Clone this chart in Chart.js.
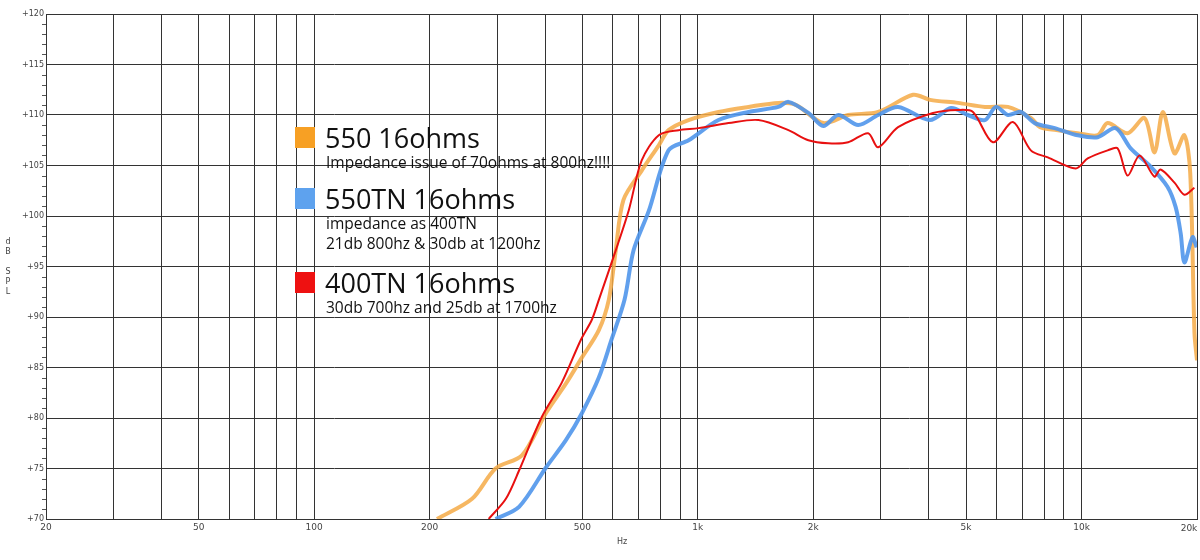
<!DOCTYPE html>
<html>
<head>
<meta charset="utf-8">
<script src="https://cdn.jsdelivr.net/npm/chart.js@4/dist/chart.umd.min.js"></script>
<style>
  body { margin: 0; background: #fff; }
  #wrap { width: 1200px; height: 560px; }
</style>
</head>
<body>
<div id="wrap"><canvas id="myChart" width="1200" height="560"></canvas></div>
<script>
// frequency (Hz) / SPL (dB)
var freq550 = [209, 258, 297, 348, 402, 453, 499, 552, 586, 611, 640, 714, 791, 839, 946, 1132, 1355, 1622, 1800, 2124, 2465, 2951, 3640, 4030, 4767, 5600, 6431, 7378, 7800, 8600, 9773, 11020, 11700, 13190, 14600, 15500, 16300, 17470, 18540, 19200, 19700, 20000];
var spl550  = [70, 72, 75, 76.3, 80.5, 83.4, 86, 88.7, 91.7, 96.6, 101.6, 104.5, 107, 108.5, 109.5, 110.3, 110.8, 111.2, 111, 109.2, 110, 110.3, 112, 111.5, 111.2, 110.8, 110.8, 109.7, 108.8, 108.5, 108.2, 108, 109.2, 108.2, 109.7, 106.3, 110.3, 106.2, 108, 104.3, 88.4, 85.7];

var freq550tn = [297, 342, 402, 453, 499, 552, 595, 644, 680, 745, 839, 946, 1132, 1355, 1622, 1722, 1941, 2124, 2323, 2619, 2951, 3326, 4030, 4572, 5061, 5600, 5985, 6431, 6951, 7553, 8517, 9773, 11020, 12270, 13430, 15140, 16750, 17590, 18130, 18550, 19470, 19950];
var spl550tn  = [70, 71.2, 75.1, 77.8, 80.5, 84, 87.7, 91.7, 96.6, 100.5, 106.5, 107.5, 109.5, 110.3, 110.8, 111.3, 110.2, 108.9, 110, 109, 110, 110.8, 109.5, 110.7, 110, 109.5, 110.8, 110, 110.3, 109.2, 108.7, 108, 107.8, 108.7, 106.7, 104.9, 102.9, 100.9, 98.3, 95.4, 97.9, 96.9];

var freq400tn = [285, 316, 342, 392, 442, 495, 529, 552, 611, 661, 714, 791, 891, 1004, 1202, 1439, 1722, 1941, 2187, 2465, 2779, 2951, 3326, 4103, 4767, 5213, 5876, 6625, 7378, 8170, 9659, 10379, 11700, 12420, 13190, 14170, 15490, 16070, 17470, 18540, 19690];
var spl400tn  = [70, 72, 74.8, 80.1, 83.5, 87.7, 89.7, 91.7, 96.6, 100.6, 105.5, 108, 108.5, 108.7, 109.2, 109.5, 108.5, 107.5, 107.2, 107.3, 108.2, 106.8, 108.8, 110.2, 110.5, 110.3, 107.3, 109.3, 106.5, 105.8, 104.7, 105.7, 106.5, 106.7, 104, 106, 103.9, 104.6, 103.3, 102.1, 102.8];

var xTicks = [20, 30, 40, 50, 60, 70, 80, 90, 100, 200, 300, 400, 500, 600, 700, 800, 900, 1000, 2000, 3000, 4000, 5000, 6000, 7000, 8000, 9000, 10000, 20000];
var xLabels = [20, 50, 100, 200, 500, 1000, 2000, 5000, 10000];

var legendItems = [
    { name: '550 16ohms', color: '#f7a024', notes: ['Impedance issue of 70ohms at 800hz!!!!'] },
    { name: '550TN 16ohms', color: '#5ea2ee', notes: ['impedance as 400TN', '21db 800hz & 30db at 1200hz'] },
    { name: '400TN 16ohms', color: '#ee1111', notes: ['30db 700hz and 25db at 1700hz'] }
];

function pts(xs, ys) {
    var out = [];
    for (var i = 0; i < xs.length; i++) out.push({ x: xs[i], y: ys[i] });
    return out;
}

function fmtHz(v) {
    return v >= 1000 ? (v / 1000) + 'k' : '' + v;
}

var overlay = {
    id: 'overlay',
    afterDraw: function(chart) {
        var ctx = chart.ctx, a = chart.chartArea, y = chart.scales.y;
        ctx.save();
        // minor ticks on y axis
        ctx.strokeStyle = '#555';
        ctx.lineWidth = 1;
        for (var v = 70; v <= 120; v++) {
            var py = Math.round(y.getPixelForValue(v)) + 0.5;
            ctx.beginPath();
            ctx.moveTo(a.left - (v % 5 == 0 ? 0 : 4), py);
            ctx.lineTo(a.left, py);
            ctx.stroke();
        }
        // axis titles and last x label (kept out of the scale so the plot reaches the edge)
        ctx.fillStyle = '#444';
        ctx.font = '8px "DejaVu Sans"';
        ctx.textAlign = 'center';
        var letters = ['d', 'B', '', 'S', 'P', 'L'];
        for (var i = 0; i < letters.length; i++) ctx.fillText(letters[i], 8, 244 + i * 10);
        ctx.fillText('Hz', 622, 544);
        ctx.font = '9px "DejaVu Sans"';
        ctx.fillText('20k', 1189, 531);
        // legend text block
        var top = [127, 188, 272];
        ctx.textAlign = 'left';
        for (var k = 0; k < legendItems.length; k++) {
            var it = legendItems[k];
            ctx.fillStyle = it.color;
            ctx.fillRect(295, top[k], 20, 21);
            ctx.fillStyle = '#111';
            ctx.font = '27px "Open Sans"';
            ctx.fillText(it.name, 325, top[k] + 21);
            ctx.font = '15.5px "Open Sans"';
            for (var j = 0; j < it.notes.length; j++) ctx.fillText(it.notes[j], 326, top[k] + 41 + j * 20);
        }
        ctx.restore();
    }
};

var ctx = document.getElementById('myChart').getContext('2d');
var myChart = new Chart(ctx, {
    type: 'line',
    data: {
        datasets: [
            { label: '400TN 16ohms', data: pts(freq400tn, spl400tn), borderColor: '#e81010', borderWidth: 2, pointRadius: 0, tension: 0.3, order: 1 },
            { label: '550TN 16ohms', data: pts(freq550tn, spl550tn), borderColor: 'rgba(80,150,235,0.9)', borderWidth: 4, pointRadius: 0, tension: 0.3, order: 2 },
            { label: '550 16ohms', data: pts(freq550, spl550), borderColor: 'rgba(245,170,70,0.85)', borderWidth: 4, pointRadius: 0, tension: 0.3, order: 3 }
        ]
    },
    options: {
        responsive: false,
        animation: false,
        layout: { padding: { top: 14, right: 0, left: 0, bottom: 0 } },
        plugins: { legend: { display: false }, tooltip: { enabled: false } },
        scales: {
            x: {
                type: 'logarithmic',
                min: 20,
                max: 20000,
                afterBuildTicks: function(s) { s.ticks = xTicks.map(function(v) { return { value: v }; }); },
                afterFit: function(s) { s.height = 41; },
                ticks: {
                    autoSkip: false,
                    maxRotation: 0,
                    color: '#444',
                    font: { size: 9, family: 'DejaVu Sans' },
                    callback: function(v) { return xLabels.indexOf(v) >= 0 ? fmtHz(v) : ''; }
                },
                grid: { color: '#333', lineWidth: 1, drawTicks: false },
                border: { color: '#333' }
            },
            y: {
                min: 70,
                max: 120,
                afterFit: function(s) { s.width = 46; },
                ticks: {
                    stepSize: 5,
                    color: '#444',
                    padding: 2,
                    font: { size: 8, family: 'DejaVu Sans' },
                    callback: function(v) { return '+' + v; }
                },
                grid: { color: '#333', lineWidth: 1, drawTicks: false },
                border: { color: '#333' }
            }
        }
    },
    plugins: [overlay]
});
</script>
</body>
</html>
